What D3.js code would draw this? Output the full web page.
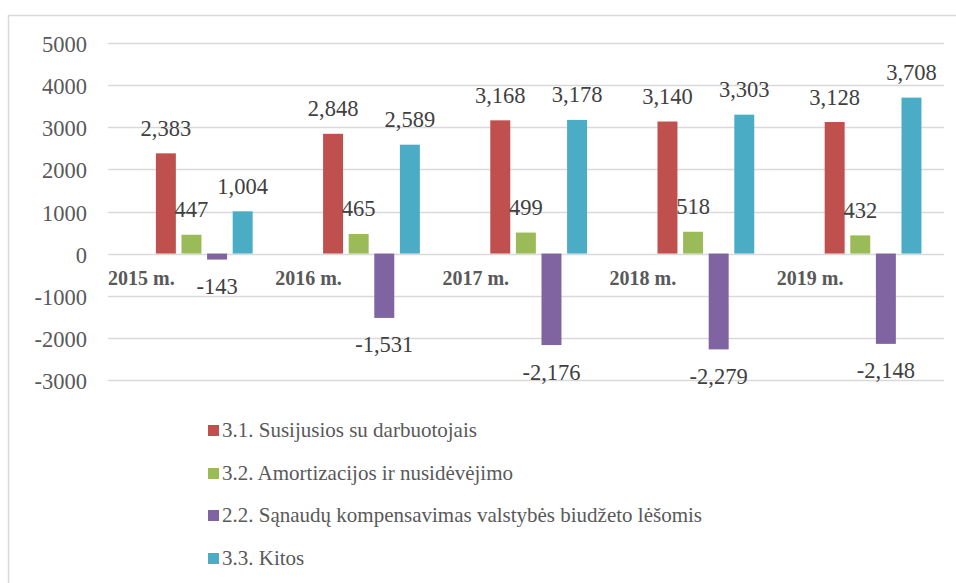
<!DOCTYPE html>
<html>
<head>
<meta charset="utf-8">
<script src="https://cdn.jsdelivr.net/npm/d3@7"></script>
<style>
  html, body { margin: 0; padding: 0; background: #fff; }
  svg { display: block; }
</style>
</head>
<body>
<div id="chart"></div>
<script>
/* Grouped bar chart: expense categories per year (Excel 2007 palette). */

const years = ["2015 m.", "2016 m.", "2017 m.", "2018 m.", "2019 m."];
const seriesKeys = ["s31", "s32", "s22", "s33"];
const seriesLabels = [
  "3.1. Susijusios su darbuotojais",
  "3.2. Amortizacijos ir nusidėvėjimo",
  "2.2. Sąnaudų kompensavimas valstybės biudžeto lėšomis",
  "3.3. Kitos",
];
const s31 = [2383, 2848, 3168, 3140, 3128];
const s32 = [447, 465, 499, 518, 432];
const s22 = [-143, -1531, -2176, -2279, -2148];
const s33 = [1004, 2589, 3178, 3303, 3708];
const yTicks = [-3000, -2000, -1000, 0, 1000, 2000, 3000, 4000, 5000];

const COLORS = { s31: "#c0504d", s32: "#9bbb59", s22: "#8064a2", s33: "#4bacc6" };
const seriesVals = { s31, s32, s22, s33 };
const FONT = "Liberation Serif";

const W = 956, H = 583;
const plot = { left: 108, right: 944, top: 43.3, bottom: 379.7 };

const svg = d3.select("#chart").append("svg")
  .attr("width", W).attr("height", H)
  .attr("font-family", FONT);

svg.append("rect").attr("width", W).attr("height", H).attr("fill", "#fff");

// chart frame (runs off the right/bottom edge in the source)
svg.append("path").attr("d", `M8.5,${H} V15.5 H${W}`)
  .attr("fill", "none").attr("stroke", "#d9d9d9").attr("stroke-width", 1.5);

const y = d3.scaleLinear().domain([-3000, 5000]).range([plot.bottom, plot.top]);
const x0 = d3.scaleBand().domain(years).range([plot.left, plot.right]);
// bars sit right of centre in each group, as in the source
const x1 = d3.scaleBand().domain(seriesKeys).range([0, x0.bandwidth()])
  .paddingInner(0.22).paddingOuter(1.375).align(0.68);

// gridlines
svg.append("g").selectAll("line").data(yTicks).join("line")
  .attr("x1", plot.left).attr("x2", plot.right)
  .attr("y1", d => Math.round(y(d)) + 0.5).attr("y2", d => Math.round(y(d)) + 0.5)
  .attr("stroke", "#d9d9d9").attr("stroke-width", 1.5);

// y tick labels
svg.append("g").selectAll("text").data(yTicks).join("text")
  .attr("x", 87).attr("y", d => Math.round(y(d) + 9))
  .attr("text-anchor", "end").attr("fill", "#595959")
  .attr("font-family", FONT).attr("font-size", 22.5)
  .text(d => String(d));

// bars + value labels
const fmt = v => d3.format(",")(v).replace("\u2212", "-");
seriesKeys.forEach(k => {
  const vals = seriesVals[k];
  const g = svg.append("g");
  g.selectAll("rect").data(vals).join("rect")
    .attr("x", (v, i) => x0(years[i]) + x1(k))
    .attr("width", x1.bandwidth())
    .attr("y", v => y(Math.max(0, v)))
    .attr("height", v => Math.abs(y(v) - y(0)))
    .attr("fill", COLORS[k]);
  g.selectAll("text").data(vals).join("text")
    .attr("x", (v, i) => x0(years[i]) + x1(k) + x1.bandwidth() / 2)
    .attr("y", v => Math.round(v >= 0 ? y(v) - 17.5 : y(v) + 34.5))
    .attr("text-anchor", "middle").attr("fill", "#404040")
    .attr("font-family", FONT).attr("font-size", 22.5)
    .text(v => fmt(v));
});

// category labels (left-anchored at each band start)
svg.append("g").selectAll("text").data(years).join("text")
  .attr("x", d => x0(d)).attr("y", 285)
  .attr("fill", "#595959").attr("font-family", FONT)
  .attr("font-size", 20).attr("font-weight", 700)
  .text(d => d);

// legend
seriesKeys.forEach((k, i) => {
  const by = Math.round(436.7 + i * 42.8);
  svg.append("rect").attr("x", 208).attr("y", by - 12).attr("width", 11).attr("height", 11)
    .attr("fill", COLORS[k]);
  svg.append("text").attr("x", 222).attr("y", by)
    .attr("fill", "#595959").attr("font-family", FONT).attr("font-size", 21)
    .text(seriesLabels[i]);
});
</script>
</body>
</html>
